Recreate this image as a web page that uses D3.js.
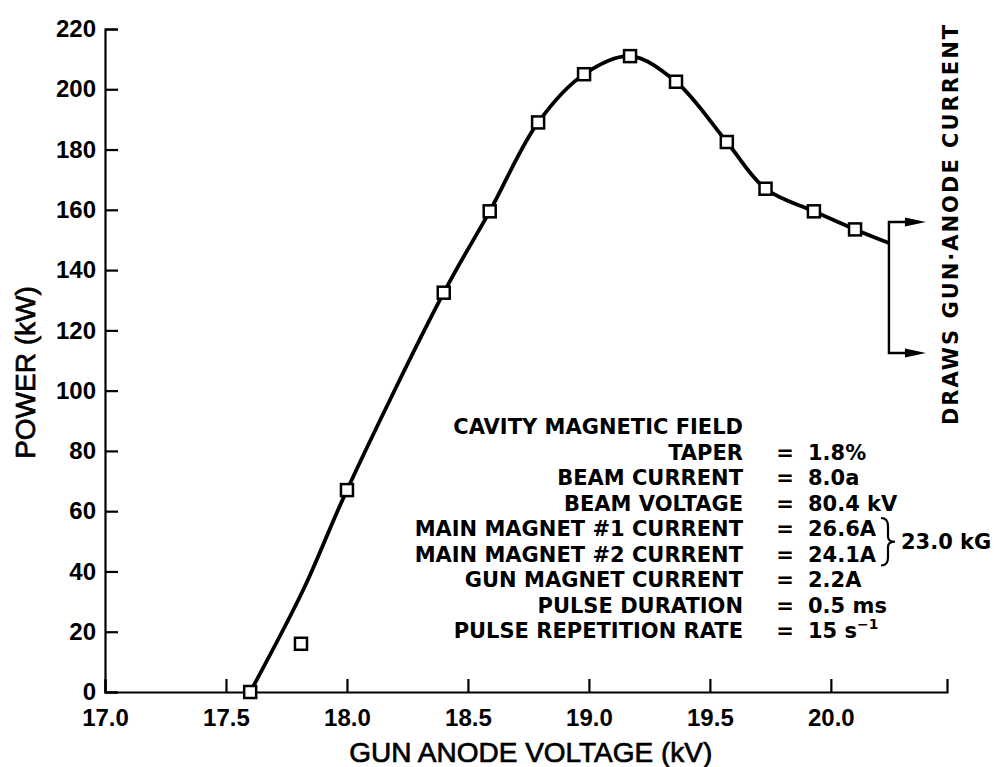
<!doctype html>
<html>
<head>
<script src="https://d3js.org/d3.v7.min.js"></script>
<style>
  body { margin: 0; background: #fff; }
  .tick text { font-family: "Liberation Sans", Arial, sans-serif; font-weight: bold; font-size: 24px; fill: #000; }
  .tick line, .domain { stroke: #000; stroke-width: 2.2px; }
  .ann { font-family: "DejaVu Sans", sans-serif; font-weight: bold; font-size: 21px; fill: #000; }
  .title { font-family: "Liberation Sans", Arial, sans-serif; font-size: 28px; fill: #000; stroke: #000; stroke-width: 0.7px; }
</style>
</head>
<body>
<svg width="996" height="767"></svg>
<script>
// measured points (squares)
var voltage = [17.6, 17.81, 18.0, 18.4, 18.59, 18.79, 18.98, 19.17, 19.36, 19.57, 19.73, 19.93, 20.10];
var power   = [0, 16, 67, 132.5, 159.5, 189, 205, 211, 202.5, 182.5, 167, 159.5, 153.5];

// fitted curve as drawn (skips the low point at 17.81)
var curveVoltage = [17.6, 17.82, 18.0, 18.4, 18.59, 18.79, 18.98, 19.17, 19.36, 19.57, 19.73, 19.93, 20.10, 20.24];
var curvePower   = [0, 34, 67, 132.5, 159.5, 189, 205, 211, 202.5, 182.5, 167, 159.5, 153.5, 149];

var xTicks = [17.0, 17.5, 18.0, 18.5, 19.0, 19.5, 20.0];
var yTicks = [0, 20, 40, 60, 80, 100, 120, 140, 160, 180, 200, 220];

var paramNames  = ["CAVITY MAGNETIC FIELD", "TAPER", "BEAM CURRENT", "BEAM VOLTAGE",
                   "MAIN MAGNET #1 CURRENT", "MAIN MAGNET #2 CURRENT", "GUN MAGNET CURRENT",
                   "PULSE DURATION", "PULSE REPETITION RATE"];
var paramValues = ["", "1.8%", "8.0a", "80.4 kV", "26.6A", "24.1A", "2.2A", "0.5 ms", "15 s"];

var svg = d3.select("svg");

var x = d3.scaleLinear().domain([17.0, 20.48]).range([105, 947]);
var y = d3.scaleLinear().domain([0, 220]).range([692, 29]);

// axes
svg.append("g")
   .attr("transform", "translate(0," + y(0) + ")")
   .call(d3.axisBottom(x).tickValues(xTicks).tickFormat(d3.format(".1f"))
         .tickSizeInner(-13).tickSizeOuter(-13).tickPadding(17));

svg.append("g")
   .attr("transform", "translate(" + x(17.0) + ",0)")
   .call(d3.axisLeft(y).tickValues(yTicks).tickFormat(d3.format("d"))
         .tickSizeInner(-13).tickSizeOuter(-13).tickPadding(9));

// axis titles
svg.append("text").attr("class", "title")
   .attr("x", x(18.76)).attr("y", 762)
   .attr("text-anchor", "middle")
   .text("GUN ANODE VOLTAGE (kV)");

svg.append("text").attr("class", "title")
   .attr("transform", "translate(35," + y(106) + ") rotate(-90)")
   .attr("text-anchor", "middle")
   .text("POWER (kW)");

// curve
var pts = curveVoltage.map(function(v, i) { return [v, curvePower[i]]; });
var line = d3.line()
   .x(function(d) { return x(d[0]); })
   .y(function(d) { return y(d[1]); })
   .curve(d3.curveCatmullRom.alpha(0.5));

svg.append("path")
   .datum(pts)
   .attr("d", line)
   .attr("fill", "none")
   .attr("stroke", "#000")
   .attr("stroke-width", 3.8);

// squares
var s = 12;
svg.selectAll(".pt")
   .data(voltage)
   .enter().append("rect")
   .attr("class", "pt")
   .attr("x", function(d) { return x(d) - s / 2; })
   .attr("y", function(d, i) { return y(power[i]) - s / 2; })
   .attr("width", s).attr("height", s)
   .attr("fill", "#fff")
   .attr("stroke", "#000")
   .attr("stroke-width", 2.5);

// bracket with arrows at the end of the curve
var bx = x(20.24);
var topY = 222, botY = 353;
svg.append("path")
   .attr("d", "M" + (bx + 20) + "," + topY + "H" + bx + "V" + botY + "H" + (bx + 20))
   .attr("fill", "none").attr("stroke", "#000").attr("stroke-width", 2.4);
[topY, botY].forEach(function(ay) {
  svg.append("path")
     .attr("d", "M" + (bx + 16) + "," + (ay - 4.5) + "L" + (bx + 37) + "," + ay + "L" + (bx + 16) + "," + (ay + 4.5) + "Z")
     .attr("fill", "#000");
});

svg.append("text").attr("class", "ann")
   .attr("transform", "translate(958,224) rotate(-90)")
   .attr("text-anchor", "middle")
   .style("letter-spacing", "2px")
   .text("DRAWS GUN\u00B7ANODE CURRENT");

// parameter block
var rowY = d3.scaleLinear().domain([0, 8]).range([434, 638]);
var rows = svg.append("g");
paramNames.forEach(function(n, i) {
  rows.append("text").attr("class", "ann")
      .attr("x", 743).attr("y", rowY(i))
      .attr("text-anchor", "end")
      .text(n);
  if (i > 0) {
    rows.append("text").attr("class", "ann")
        .attr("x", 785).attr("y", rowY(i))
        .attr("text-anchor", "middle")
        .text("=");
    var t = rows.append("text").attr("class", "ann")
        .attr("x", 808).attr("y", rowY(i))
        .text(paramValues[i]);
    if (i === 8) {
      t.append("tspan").attr("dy", -9).style("font-size", "14px").text("\u22121");
    }
  }
});

// brace joining the two main magnet rows
var b0 = rowY(4) - 18, b1 = rowY(5) + 4, bm = (b0 + b1) / 2, bxx = 881;
svg.append("path")
   .attr("d", "M" + bxx + "," + b0 +
              "Q" + (bxx + 7) + "," + b0 + " " + (bxx + 7) + "," + (b0 + 8) +
              "V" + (bm - 5) +
              "Q" + (bxx + 7) + "," + bm + " " + (bxx + 14) + "," + bm +
              "Q" + (bxx + 7) + "," + bm + " " + (bxx + 7) + "," + (bm + 5) +
              "V" + (b1 - 8) +
              "Q" + (bxx + 7) + "," + b1 + " " + bxx + "," + b1)
   .attr("fill", "none").attr("stroke", "#000").attr("stroke-width", 2.2);

svg.append("text").attr("class", "ann")
   .attr("x", bxx + 20).attr("y", bm + 7.5)
   .text("23.0 kG");
</script>
</body>
</html>
